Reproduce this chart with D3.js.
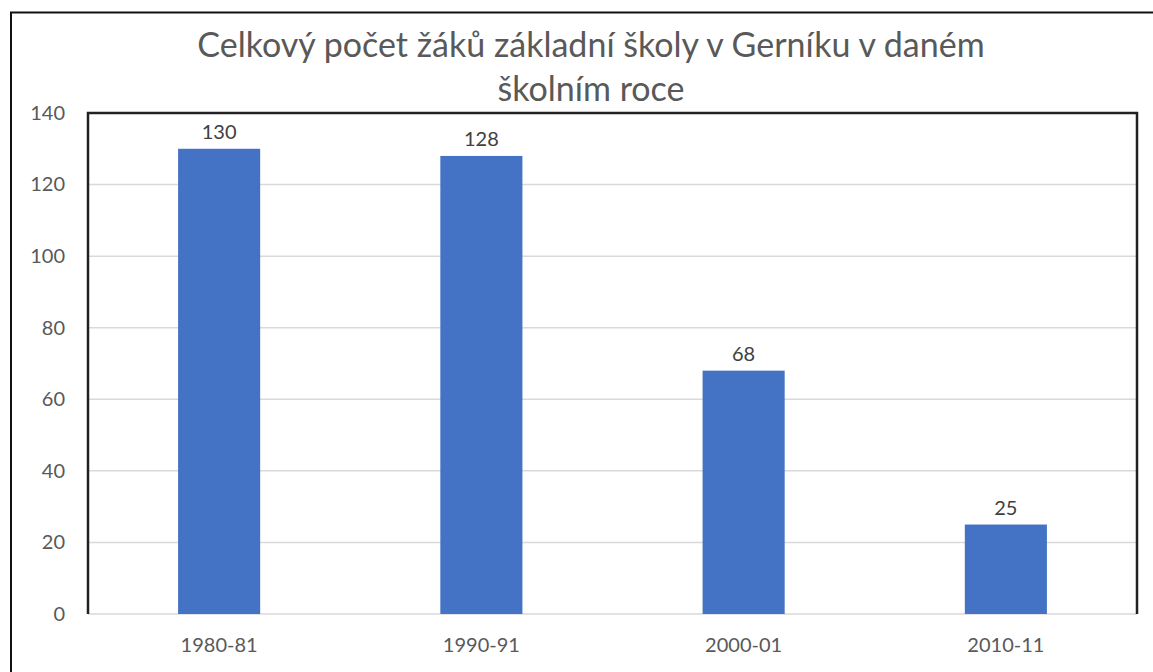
<!DOCTYPE html>
<html><head><meta charset="utf-8">
<script src="https://cdn.jsdelivr.net/npm/d3@7"></script>
<style>body{margin:0;background:#fff}svg{display:block}</style>
</head><body><svg id="c" width="1153" height="672"></svg>
<script>
const categories = ["1980-81","1990-91","2000-01","2010-11"];
const values = [130,128,68,25];
const yTicks = [0,20,40,60,80,100,120,140];
const titleLines = ["Celkový počet žáků základní školy v Gerníku v daném","školním roce"];

const svg = d3.select("#c");
const font = "Lato, 'Open Sans', sans-serif";
const L=88, R=1137, T=113, B=614;
const x = d3.scaleBand().domain(categories).range([L,R]).paddingInner(0.687).paddingOuter(0.3435);
const y = d3.scaleLinear().domain([0,140]).range([B,T]);

// outer frame
svg.append("rect").attr("x",11).attr("y",12.5).attr("width",1160).attr("height",700)
  .attr("fill","none").attr("stroke","#111").attr("stroke-width",2);

// gridlines
svg.append("g").selectAll("line").data(yTicks).join("line")
  .attr("x1",L).attr("x2",R).attr("y1",d=>y(d)).attr("y2",d=>y(d))
  .attr("stroke","#d9d9d9").attr("stroke-width",1.5);

// bars
svg.append("g").selectAll("rect").data(values).join("rect")
  .attr("x",(d,i)=>x(categories[i])).attr("width",x.bandwidth())
  .attr("y",d=>y(d)).attr("height",d=>y(0)-y(d)).attr("fill","#4472c4");

// data labels
svg.append("g").selectAll("text").data(values).join("text")
  .attr("x",(d,i)=>x(categories[i])+x.bandwidth()/2).attr("y",d=>y(d)-10)
  .attr("text-anchor","middle").attr("font-family",font).attr("font-size",20)
  .attr("fill","#404040").text(d=>d);

// plot frame (left, top, right)
svg.append("path").attr("d",`M${L},${B}V${T}H${R}V${B}`).attr("fill","none")
  .attr("stroke","#222").attr("stroke-width",2.5);

// y axis labels
const ya = d3.axisLeft(y).tickValues(yTicks).tickSize(0).tickPadding(23);
const gy = svg.append("g").attr("transform",`translate(${L},0)`).call(ya);
gy.select(".domain").remove();
gy.selectAll("text").attr("font-family",font).attr("font-size",20).attr("fill","#595959");

// x axis labels
const xa = d3.axisBottom(x).tickSize(0).tickPadding(24);
const gx = svg.append("g").attr("transform",`translate(0,${B})`).call(xa);
gx.select(".domain").remove();
gx.selectAll("text").attr("font-family",font).attr("font-size",20).attr("fill","#595959");

// title
svg.append("g").selectAll("text").data(titleLines).join("text")
  .attr("x",591).attr("y",(d,i)=>57+i*44).attr("text-anchor","middle")
  .attr("font-family",font).attr("font-size",34).attr("fill","#595959").text(d=>d);
</script></body></html>
